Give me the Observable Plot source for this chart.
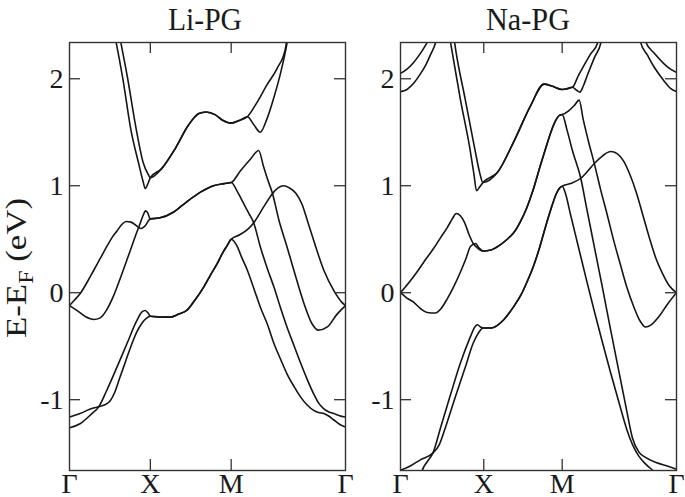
<!DOCTYPE html>
<html>
<head>
<meta charset="utf-8">
<script src="https://cdn.jsdelivr.net/npm/d3@7"></script>
<script src="https://cdn.jsdelivr.net/npm/@observablehq/plot@0.6"></script>
<style>
html,body{margin:0;padding:0;background:#fff;}
#wrap{position:relative;width:685px;height:497px;overflow:hidden;background:#fff;}
#wrap > svg{position:absolute;top:0;}
</style>
</head>
<body>
<div id="wrap"></div>
<script>
// ---------- tick labels / axes ----------
const kLabels = ["Γ", "X", "M", "Γ"];
const kTicksLi = [0, 1, 2, 3.414];
const kTicksNa = [0, 1.03, 2, 3.414];
const eTicks = [-1, 0, 1, 2];
const kDomain = [0, 3.414];
const eDomain = [-1.662, 2.339];
const panelTitles = ["Li-PG", "Na-PG"];
const yTitle = "E-E";
const yTitleSub = "F";
const yTitleUnit = " (eV)";

// ---------- Li-PG bands: [k, E] ----------
const li_cXM = [[1.0,1.075],[1.14,1.16],[1.31,1.35],[1.47,1.565],[1.6,1.675],[1.69,1.69],[1.8,1.665],[1.9,1.61],[2.0,1.585],[2.1,1.61],[2.2,1.645]];
const li_c1a = [[0.55,2.44],[0.578,2.335],[0.66,2.0],[0.76,1.52],[0.855,1.21],[0.91,1.04],[0.937,0.973],[0.965,1.01]];
const li_c1b = [[2.28,1.57],[2.36,1.50],[2.44,1.62],[2.53,1.83],[2.61,2.05],[2.69,2.33],[2.71,2.42]];
const li_c2a = [[0.61,2.44],[0.636,2.335],[0.72,2.0],[0.82,1.55],[0.91,1.22],[0.97,1.11]];
const li_c2b = [[2.32,1.78],[2.44,1.94],[2.57,2.1],[2.67,2.28],[2.70,2.42]];

const li_mXM = [[1.0,0.69],[1.12,0.70],[1.29,0.755],[1.45,0.85],[1.62,0.94],[1.78,1.0],[1.91,1.02],[2.0,1.03]];
const li_m1a = [[0,-0.12],[0.06,-0.07],[0.13,-0.01],[0.22,0.1],[0.3,0.21],[0.38,0.32],[0.46,0.43],[0.53,0.52],[0.59,0.58],[0.65,0.64],[0.7,0.665],[0.76,0.66],[0.83,0.625],[0.88,0.6],[0.93,0.62]];
const li_m1b = [[2.115,1.14],[2.24,1.25],[2.34,1.33],[2.4,1.18],[2.45,1.06],[2.51,0.93],[2.59,0.68],[2.69,0.43],[2.775,0.21],[2.9,-0.1],[3.0,-0.29],[3.08,-0.35],[3.19,-0.32],[3.31,-0.2],[3.414,-0.12]];
const li_m2a = [[0,-0.12],[0.1,-0.17],[0.2,-0.225],[0.3,-0.25],[0.38,-0.235],[0.46,-0.16],[0.55,-0.02],[0.65,0.18],[0.75,0.39],[0.83,0.56],[0.88,0.66],[0.92,0.74],[0.94,0.765],[0.965,0.75]];
const li_m2b = [[2.08,0.94],[2.156,0.83],[2.22,0.74],[2.28,0.65],[2.36,0.43],[2.45,0.22],[2.53,0.05],[2.61,-0.14],[2.69,-0.32],[2.78,-0.5],[2.86,-0.66],[2.94,-0.81],[3.02,-0.945],[3.08,-1.03],[3.146,-1.085],[3.21,-1.115],[3.27,-1.13],[3.34,-1.15],[3.414,-1.163]];

const li_vXM = [[1.0,-0.22],[1.12,-0.227],[1.25,-0.228],[1.35,-0.2],[1.45,-0.166],[1.55,-0.07],[1.66,0.053],[1.74,0.16],[1.825,0.27],[1.9,0.38],[1.95,0.44],[2.0,0.5]];
const li_v1a = [[0,-1.263],[0.13,-1.225],[0.277,-1.13],[0.36,-1.07],[0.46,-0.914],[0.587,-0.696],[0.71,-0.477],[0.834,-0.259],[0.896,-0.18],[0.937,-0.166],[0.978,-0.197]];
const li_v1b = [[2.07,0.44],[2.13,0.33],[2.2,0.21],[2.28,0.04],[2.36,-0.134],[2.45,-0.3],[2.53,-0.477],[2.61,-0.62],[2.69,-0.758],[2.78,-0.88],[2.86,-0.976],[2.94,-1.05],[3.02,-1.1],[3.08,-1.12],[3.146,-1.13],[3.2,-1.15],[3.27,-1.19],[3.34,-1.23],[3.414,-1.257]];
const li_v2a = [[0,-1.163],[0.13,-1.13],[0.25,-1.09],[0.34,-1.07],[0.43,-1.05],[0.504,-1.01],[0.56,-0.93],[0.62,-0.80],[0.69,-0.65],[0.76,-0.5],[0.83,-0.37],[0.9,-0.28],[0.95,-0.24]];
const li_v2b = [[2.1,0.54],[2.2,0.59],[2.28,0.655],[2.4,0.8],[2.51,0.926],[2.58,0.98],[2.65,1.0],[2.72,0.98],[2.8,0.93],[2.88,0.82],[2.94,0.68],[3.02,0.49],[3.146,0.21],[3.27,0.02],[3.37,-0.09],[3.414,-0.12]];

// ---------- Na-PG bands: [k, E] ----------
const na_t1 = [[0,2.05],[0.08,2.09],[0.16,2.15],[0.24,2.23],[0.3,2.3],[0.35,2.37],[0.38,2.42]];
const na_t2 = [[0,1.88],[0.08,1.9],[0.165,1.96],[0.25,2.05],[0.32,2.14],[0.38,2.24],[0.43,2.33],[0.45,2.4]];
const na_t3 = [[3.0,2.42],[3.03,2.35],[3.137,2.24],[3.26,2.14],[3.34,2.09],[3.414,2.06]];
const na_t4 = [[2.95,2.42],[2.97,2.34],[3.055,2.22],[3.137,2.11],[3.26,1.98],[3.34,1.91],[3.414,1.88]];

const na_cXM = [[1.02,1.03],[1.2,1.125],[1.4,1.41],[1.61,1.75],[1.775,1.95],[1.88,1.93],[2.0,1.9],[2.126,1.92]];
const na_c1a = [[0.6,2.42],[0.62,2.335],[0.74,1.81],[0.86,1.34],[0.91,1.1],[0.94,0.953],[0.98,0.99]];
const na_c1b = [[2.175,1.895],[2.22,1.875],[2.26,1.93],[2.31,2.03],[2.4,2.2],[2.48,2.34],[2.5,2.42]];
const na_c2a = [[0.655,2.42],[0.67,2.335],[0.8,1.81],[0.92,1.34],[0.98,1.12]];
const na_c2b = [[2.2,2.03],[2.27,2.125],[2.35,2.23],[2.44,2.34],[2.46,2.42]];

const na_mXM = [[1.02,0.39],[1.12,0.40],[1.22,0.44],[1.32,0.5],[1.4,0.56],[1.48,0.66],[1.56,0.79],[1.64,0.96],[1.73,1.19],[1.8,1.36],[1.86,1.5],[1.92,1.61],[1.97,1.66],[2.0,1.665]];
const na_m1a = [[0,0],[0.1,0.09],[0.206,0.196],[0.31,0.31],[0.413,0.418],[0.5,0.52],[0.578,0.608],[0.64,0.69],[0.69,0.74],[0.74,0.72],[0.79,0.66],[0.85,0.54],[0.9,0.46],[0.95,0.42]];
const na_m1b = [[2.08,1.70],[2.15,1.75],[2.21,1.80],[2.26,1.62],[2.33,1.40],[2.4,1.2],[2.47,0.98],[2.56,0.72],[2.64,0.48],[2.725,0.25],[2.8,0.05],[2.89,-0.14],[2.96,-0.26],[3.03,-0.32],[3.1,-0.3],[3.2,-0.22],[3.3,-0.11],[3.414,0]];
const na_m2a = [[0,0],[0.08,-0.05],[0.165,-0.09],[0.25,-0.15],[0.33,-0.185],[0.43,-0.19],[0.5,-0.15],[0.578,-0.057],[0.66,0.06],[0.743,0.196],[0.81,0.32],[0.867,0.434],[0.93,0.46],[0.97,0.42]];
const na_m2b = [[2.06,1.52],[2.13,1.32],[2.23,1.07],[2.3,0.8],[2.4,0.42],[2.5,0.04],[2.6,-0.35],[2.7,-0.73],[2.8,-1.11],[2.87,-1.36],[2.95,-1.49],[3.03,-1.54],[3.17,-1.59],[3.3,-1.62],[3.414,-1.65]];

const na_vXM = [[1.02,-0.33],[1.12,-0.33],[1.28,-0.25],[1.4,-0.13],[1.49,-0.02],[1.57,0.11],[1.65,0.26],[1.72,0.42],[1.78,0.58],[1.86,0.78],[1.93,0.93],[1.97,0.98],[2.0,0.995]];
const na_v1a = [[0.24,-1.74],[0.27,-1.66],[0.33,-1.58],[0.4,-1.5],[0.5,-1.25],[0.62,-0.95],[0.74,-0.66],[0.86,-0.42],[0.92,-0.32],[0.95,-0.30],[0.99,-0.32]];
const na_v1b = [[2.04,0.93],[2.1,0.74],[2.2,0.43],[2.3,0.12],[2.4,-0.18],[2.5,-0.47],[2.6,-0.75],[2.7,-1.02],[2.8,-1.28],[2.87,-1.42],[2.95,-1.53],[3.03,-1.6],[3.12,-1.66],[3.2,-1.71]];
const na_v2a = [[0,-1.66],[0.12,-1.62],[0.25,-1.56],[0.4,-1.5],[0.48,-1.42],[0.56,-1.25],[0.68,-0.97],[0.8,-0.7],[0.9,-0.47],[0.97,-0.37]];
const na_v2b = [[2.1,1.02],[2.23,1.07],[2.32,1.14],[2.4,1.21],[2.5,1.28],[2.6,1.32],[2.68,1.3],[2.76,1.23],[2.84,1.1],[2.92,0.93],[3.0,0.72],[3.08,0.51],[3.16,0.32],[3.24,0.18],[3.32,0.07],[3.414,0]];

// ---------- assemble band polylines ----------
const liBands = [
  [...li_c1a, ...li_cXM, ...li_c1b],
  [...li_c2a, ...li_cXM, ...li_c2b],
  [...li_m1a, ...li_mXM, ...li_m1b],
  [...li_m2a, ...li_mXM, ...li_m2b],
  [...li_v1a, ...li_vXM, ...li_v1b],
  [...li_v2a, ...li_vXM, ...li_v2b]
];
const naBands = [
  na_t1, na_t2, na_t3, na_t4,
  [...na_c1a, ...na_cXM, ...na_c1b],
  [...na_c2a, ...na_cXM, ...na_c2b],
  [...na_m1a, ...na_mXM, ...na_m1b],
  [...na_m2a, ...na_mXM, ...na_m2b],
  [...na_v1a, ...na_vXM, ...na_v1b],
  [...na_v2a, ...na_vXM, ...na_v2b]
];

const H = 497, MT = 42, MB = 27, TICK = 11;
const FONT = "'Liberation Serif', 'Times New Roman', serif";

function panel({bands, kTicks, width, marginLeft, marginRight}) {
  const innerW = width - marginLeft - marginRight;
  const innerH = H - MT - MB;
  const inner = kTicks.slice(1, -1);
  return Plot.plot({
    width, height: H, marginLeft, marginRight, marginTop: MT, marginBottom: MB,
    style: {fontFamily: FONT, fontSize: "28px", color: "#1a1a1a", background: "transparent", overflow: "visible"},
    x: {domain: kDomain, ticks: kTicks, tickFormat: (d, i) => kLabels[i], tickSize: 0, tickPadding: 3, label: null},
    y: {domain: eDomain, ticks: eTicks, tickFormat: d => String(d), tickSize: 0, tickPadding: 6, label: null},
    marks: [
      ...bands.map(b => Plot.line(b, {x: d => d[0], y: d => d[1], curve: "monotone-x", stroke: "#151515", strokeWidth: 1.6, clip: true})),
      Plot.tickY(eTicks, {y: d => d, insetRight: innerW - TICK, stroke: "#333", strokeWidth: 1.3}),
      Plot.tickY(eTicks, {y: d => d, insetLeft: innerW - TICK, stroke: "#333", strokeWidth: 1.3}),
      Plot.tickX(inner, {x: d => d, insetTop: innerH - TICK, stroke: "#333", strokeWidth: 1.3}),
      Plot.tickX(inner, {x: d => d, insetBottom: innerH - TICK, stroke: "#333", strokeWidth: 1.3}),
      Plot.frame({stroke: "#333", strokeWidth: 1.4})
    ]
  });
}

const wrap = document.getElementById("wrap");
const p1 = panel({bands: liBands, kTicks: kTicksLi, width: 350, marginLeft: 69, marginRight: 5});
p1.style.left = "0px";
wrap.appendChild(p1);
const p2 = panel({bands: naBands, kTicks: kTicksNa, width: 345, marginLeft: 60, marginRight: 9});
p2.style.left = "340px";
wrap.appendChild(p2);

// overlay: titles and y-axis title
const ov = d3.select(wrap).append("svg")
  .attr("width", 685).attr("height", H)
  .style("left", "0px").style("pointer-events", "none")
  .style("font-family", FONT).attr("fill", "#1a1a1a");
const titleX = [205, 528];
const titleLen = [74, 84];
panelTitles.forEach((t, i) => {
  ov.append("text").attr("x", titleX[i]).attr("y", 30).attr("text-anchor", "middle")
    .attr("font-size", 31).attr("textLength", titleLen[i]).attr("lengthAdjust", "spacingAndGlyphs").text(t);
});
const yt = ov.append("text").attr("transform", "translate(26,268) rotate(-90)")
  .attr("text-anchor", "middle").attr("font-size", 29)
  .attr("textLength", 140).attr("lengthAdjust", "spacingAndGlyphs");
yt.append("tspan").text(yTitle);
yt.append("tspan").attr("font-size", 20).attr("dy", 7).text(yTitleSub);
yt.append("tspan").attr("dy", -7).text(yTitleUnit);
</script>
</body>
</html>
